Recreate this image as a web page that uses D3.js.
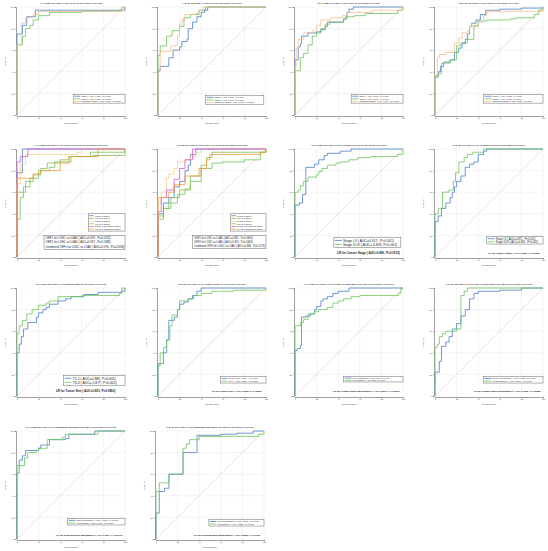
<!DOCTYPE html>
<html lang="en">
<head>
<meta charset="UTF-8">
<title>LINE-1 ROC curves</title>
<script src="https://d3js.org/d3.v7.min.js"></script>
<style>
  body { margin: 0; background: #fff; }
  svg { display: block; font-family: "Liberation Sans", Arial, sans-serif; }
</style>
</head>
<body>
<svg width="548" height="551"></svg>
<script>
// ---- data ----
var ticks = [0, 20, 40, 60, 80, 100];

var titles = [
  "A-1: FEMALE LINE-1 FOR LUAD IN TRAINING COHORT",
  "A-2: MALE LINE-1 FOR LUAD IN TRAINING COHORT",
  "B-1: FEMALE LINE-1 FOR LUSC IN TRAINING COHORT",
  "B-2: MALE LINE-1 FOR LUSC IN TRAINING COHORT",
  "C-1: FEMALE LINE-1 FOR LUSC VS LUAD IN TRAINING COHORT",
  "C-2: MALE LINE-1 FOR LUSC VS LUAD IN TRAINING COHORT",
  "D-1: FEMALE LINE-1 FOR CANCER STAGE IN TRAINING COHORT",
  "D-2: MALE LINE-1 FOR CANCER STAGE IN TRAINING COHORT",
  "E-1: FEMALE LINE-1 FOR TUMOR SIZE IN TRAINING COHORT",
  "E-2: MALE LINE-1 FOR TUMOR SIZE IN TRAINING COHORT",
  "F-1: FEMALE LINE-1 FOR LYMPH NODES METASTASES IN TRAINING COHORT",
  "F-2: MALE LINE-1 FOR LYMPH NODES METASTASES IN TRAINING COHORT",
  "G-1: FEMALE LINE-1 FOR DISSEMINATED METASTASES IN TRAINING COHORT",
  "G-2: MALE LINE-1 FOR DISSEMINATED METASTASES IN TRAINING COHORT"
];

// ROC points: [100-specificity, sensitivity]
var a1Orf1 = [[0,0],[0,75],[5,83],[9,91],[17,97],[96,97],[100,100]];
var a1Orf2 = [[0,0],[0,65],[5,73],[8,80],[12,83],[15,88],[20,92],[30,95],[60,96],[94,97],[97,100],[100,100]];
var a1Comb = [[0,0],[0,65],[4,85],[8,90],[15,93],[20,96],[97,97],[100,100]];

var a2Orf1 = [[0,0],[0,41],[2,45],[10,53],[14,60],[20,63],[22,68],[27,70],[28,80],[32,86],[36,91],[40,95],[43,97],[46,100],[100,100]];
var a2Orf2 = [[0,0],[0,55],[2,64],[8,73],[13,78],[20,82],[24,90],[30,93],[38,97],[44,100],[100,100]];
var a2Comb = [[0,0],[0,40],[2,59],[12,64],[18,73],[20,84],[22,88],[25,93],[35,94],[38,97],[42,100],[100,100]];

var b1Orf1 = [[0,0],[0,51],[3,63],[5,66],[6,73],[12,76],[20,77],[24,79],[28,82],[30,86],[45,89],[48,95],[50,98],[54,100],[100,100]];
var b1Orf2 = [[0,0],[0,41],[5,53],[8,57],[12,65],[16,73],[20,76],[24,80],[28,84],[32,86],[45,89],[47,91],[55,92],[65,94],[95,97],[100,100]];
var b1Comb = [[0,0],[0,45],[1,62],[3,70],[8,76],[16,78],[20,83],[24,88],[33,90],[44,92],[48,95],[72,97],[100,100]];

var b2Orf1 = [[0,0],[0,36],[3,40],[5,45],[8,49],[14,51],[18,58],[22,62],[25,66],[28,70],[30,75],[32,82],[34,85],[38,88],[42,93],[47,97],[60,98],[80,99],[100,100]];
var b2Orf2 = [[0,0],[0,35],[3,38],[6,48],[14,51],[20,64],[24,67],[30,70],[36,83],[40,87],[48,88],[70,89],[75,90],[92,93],[96,97],[100,100]];
var b2Comb = [[0,0],[0,37],[2,53],[4,56],[10,58],[18,66],[22,71],[25,76],[30,78],[32,82],[40,86],[45,92],[48,96],[100,100]];

var c1LuscOrf1 = [[0,0],[0,78],[5,100],[100,100]];
var c1LuadOrf1 = [[0,0],[0,35],[3,55],[6,65],[12,73],[20,80],[30,83],[35,88],[50,93],[68,97],[100,100]];
var c1LuscOrf2 = [[0,0],[0,68],[3,86],[8,95],[56,97],[60,100],[100,100]];
var c1LuadOrf2 = [[0,0],[0,60],[8,70],[15,76],[22,82],[28,87],[40,90],[48,93],[70,94],[100,100]];
var c1LuscComb = [[0,0],[0,88],[3,93],[10,100],[100,100]];
var c1LuadComb = [[0,0],[0,73],[15,77],[22,80],[40,87],[48,93],[75,100],[100,100]];

var c2LuscOrf1 = [[0,0],[0,40],[5,50],[10,55],[15,65],[20,70],[25,80],[28,85],[30,95],[35,100],[100,100]];
var c2LuadOrf1 = [[0,0],[0,35],[5,45],[10,50],[18,58],[25,63],[30,70],[40,82],[50,87],[60,88],[80,90],[95,97],[100,100]];
var c2LuscOrf2 = [[0,0],[0,50],[3,60],[8,73],[10,77],[15,82],[18,88],[25,90],[30,93],[35,97],[40,100],[100,100]];
var c2LuadOrf2 = [[0,0],[0,38],[5,45],[12,55],[20,62],[30,75],[40,85],[45,92],[50,97],[100,100]];
var c2LuscComb = [[0,0],[0,42],[3,55],[8,62],[15,72],[20,82],[25,90],[32,100],[100,100]];
var c2LuadComb = [[0,0],[0,55],[10,60],[15,67],[25,75],[38,82],[45,90],[48,95],[95,97],[100,100]];

var d1Early = [[0,0],[0,48],[4,50],[7,58],[10,83],[18,86],[22,90],[27,94],[30,96],[42,98],[52,100],[100,100]];
var d1Late = [[0,0],[0,60],[3,62],[5,66],[8,70],[12,74],[20,76],[22,79],[25,82],[30,85],[38,87],[42,88],[50,90],[58,92],[70,93],[95,95],[100,100]];
var d2Early = [[0,0],[0,33],[3,38],[6,45],[10,50],[14,55],[16,60],[18,65],[20,70],[24,75],[28,83],[32,86],[36,88],[40,95],[45,98],[48,100],[100,100]];
var d2Late = [[0,0],[0,40],[3,45],[7,60],[13,62],[17,70],[19,78],[22,88],[27,92],[30,95],[35,97],[45,100],[100,100]];

var e1Small = [[0,0],[0,40],[2,48],[4,55],[6,62],[10,68],[18,73],[20,77],[24,80],[27,82],[30,85],[38,88],[45,90],[50,92],[62,94],[75,96],[97,97],[100,100]];
var e1Large = [[0,0],[0,58],[2,65],[5,70],[9,76],[14,80],[20,84],[27,86],[30,88],[38,92],[60,93],[95,95],[97,100],[100,100]];
var e2Small = [[0,0],[0,30],[5,40],[8,52],[10,70],[15,73],[18,80],[20,85],[24,87],[28,90],[32,93],[36,97],[40,100],[100,100]];
var e2Large = [[0,0],[0,28],[2,40],[5,45],[8,52],[11,65],[13,75],[18,80],[20,88],[28,90],[33,93],[40,95],[50,97],[70,98],[100,100]];

var f1Non = [[0,0],[0,42],[2,44],[5,47],[6,73],[10,74],[14,76],[18,80],[20,83],[24,88],[26,90],[30,92],[35,95],[40,97],[50,100],[100,100]];
var f1Met = [[0,0],[0,65],[5,68],[8,71],[12,76],[18,78],[22,80],[30,82],[35,86],[40,88],[45,90],[52,92],[60,93],[96,95],[98,100],[100,100]];
var f2Non = [[0,0],[0,22],[4,32],[6,46],[10,50],[13,55],[16,62],[20,67],[24,74],[28,80],[32,90],[36,95],[40,97],[60,98],[80,100],[100,100]];
var f2Met = [[0,0],[0,45],[2,48],[4,55],[7,58],[10,60],[20,62],[24,93],[27,97],[30,100],[100,100]];

var g1Non = [[0,0],[0,61],[2,73],[5,77],[8,82],[20,84],[22,87],[30,92],[45,93],[48,97],[70,97],[72,100],[100,100]];
var g1Met = [[0,0],[0,68],[7,75],[10,80],[18,82],[20,84],[28,92],[42,94],[45,97],[75,100],[100,100]];
var g2Non = [[0,0],[0,24],[3,44],[8,47],[12,60],[25,80],[38,96],[60,97],[75,98],[90,100],[100,100]];
var g2Met = [[0,0],[0,44],[3,52],[8,52],[12,60],[25,84],[28,88],[31,92],[40,95],[95,97],[100,100]];

// legend texts
var a1Labels = ["ORF1 ( AUC=0.962 , P<0.001)", "ORF2 ( AUC=0.921 , P<0.001)", "Combined ORFs ( AUC=0.958 , P<0.001)"];
var a2Labels = ["ORF1 ( AUC=0.872 , P<0.001)", "ORF2 ( AUC=0.907 , P<0.001)", "Combined ORFs ( AUC=0.893 , P<0.001)"];
var b1Labels = ["ORF1 ( AUC=0.868 , P<0.001)", "ORF2 ( AUC=0.834 , P<0.001)", "Combined ORFs ( AUC=0.869 , P<0.001)"];
var b2Labels = ["ORF1 ( AUC=0.815 , P<0.001)", "ORF2 ( AUC=0.786 , P<0.001)", "Combined ORFs ( AUC=0.827 , P<0.001)"];
var cLabels = ["LUSC-1 ORF1", "LUAD-1 ORF1", "LUSC-1 ORF2", "LUAD-1 ORF2", "LUSC-1 Combined ORFs", "LUAD-1 Combined ORFs"];
var c1Stats = ["ORF1 for LUSC vs LUAD ( AUC=0.978 , P=0.1132)", "ORF2 for LUSC vs LUAD ( AUC=0.937 , P=0.1988)", "Combined ORFs for LUSC vs LUAD ( AUC=0.976 , P=0.2094)"];
var c2Stats = ["ORF1 for LUSC vs LUAD ( AUC=0.862 , P=0.0643)", "ORF2 for LUSC vs LUAD ( AUC=0.902 , P=0.0463)", "Combined ORFs for LUSC vs LUAD ( AUC=0.884 , P=0.1176)"];
var d1Labels = ["Stage I-II ( AUC=0.912 , P<0.001)", "Stage III-IV ( AUC= 0.863, P<0.001)"];
var d2Labels = ["Stage I-II ( AUC=0.871 , P<0.001)", "Stage III-IV ( AUC=0.894 , P<0.001)"];
var e1Labels = ["T1-2 ( AUC=0.886, P<0.001)", "T3-4 ( AUC= 0.877, P<0.001)"];
var e2Labels = ["T1-2 ( AUC=0.884 , P<0.001)", "T3-4 ( AUC=0.890 , P<0.001)"];
var f1Labels = ["N-non Metastases ( AUC=0.890 , P<0.001)", "N-Metastases ( AUC=0.877 , P<0.001)"];
var f2Labels = ["N-non Metastases ( AUC=0.862 , P<0.001)", "N-Metastases ( AUC=0.893 , P<0.001)"];
var g1Labels = ["Non-Metastases ( AUC=0.896 , P<0.001)", "Metastases ( AUC=0.900 , P<0.001)"];
var g2Labels = ["Non-Metastases ( AUC=0.871 , P<0.001)", "Metastases ( AUC=0.880 , P<0.001)"];
var lrLabels = [
  "LR for Cancer Stage ( AUC=0.890, P=0.0152)",
  "LR for Cancer Stage ( AUC=0.887, P=0.6672)",
  "LR for Tumor Size ( AUC=0.851, P=0.0853)",
  "LR for Tumor Size ( AUC=0.836, P=0.9208)",
  "LR for Lymph Nodes Metastases ( AUC=0.876, P=0.0002)",
  "LR for Lymph Nodes Metastases ( AUC=0.935, P=0.2083)",
  "LR for Disseminated Metastases ( AUC=0.879, P=0.8770)",
  "LR for Disseminated Metastases ( AUC=0.865, P=0.6461)"
];

// ---- styles / layout ----
var blue = "#4a7fc6", green = "#6cc65a", peach = "#f8be90";
var cColors = ["#4a7fc6", "#6cc65a", "#f5cf8a", "#8fb84e", "#d659d9", "#f29a3a"];
var twoColors = [blue, green];
var threeColors = [blue, green, peach];

var colX = [17, 158, 295, 435];
var rowY = [7, 149, 288, 431];
var plotW = 108, plotH = 108;

// legend boxes in data units [x0, x1, y0, y1]; big = larger legend type
var panels = [
  {curves: [a1Orf1, a1Orf2, a1Comb], colors: threeColors, labels: a1Labels, box: [52, 100, 11, 19]},
  {curves: [a2Orf1, a2Orf2, a2Comb], colors: threeColors, labels: a2Labels, box: [44, 98, 10, 18]},
  {curves: [b1Orf1, b1Orf2, b1Comb], colors: threeColors, labels: b1Labels, box: [52, 100, 11, 19]},
  {curves: [b2Orf1, b2Orf2, b2Comb], colors: threeColors, labels: b2Labels, box: [45, 100, 11, 19]},
  {curves: [c1LuscOrf1, c1LuadOrf1, c1LuscOrf2, c1LuadOrf2, c1LuscComb, c1LuadComb], colors: cColors, labels: cLabels, box: [66, 100, 24, 40], stats: c1Stats, statBox: [25, 100, 7, 20]},
  {curves: [c2LuscOrf1, c2LuadOrf1, c2LuscOrf2, c2LuadOrf2, c2LuscComb, c2LuadComb], colors: cColors, labels: cLabels, box: [67, 100, 24, 40], stats: c2Stats, statBox: [32, 100, 8, 20]},
  {curves: [d1Early, d1Late], colors: twoColors, labels: d1Labels, box: [36, 98, 9, 18], lr: lrLabels[0], lrPos: [39, 3], big: true},
  {curves: [d2Early, d2Late], colors: twoColors, labels: d2Labels, box: [48, 100, 12, 19], lr: lrLabels[1], lrPos: [49, 3]},
  {curves: [e1Small, e1Large], colors: twoColors, labels: e1Labels, box: [43, 100, 10, 19], lr: lrLabels[2], lrPos: [36, 3.5], big: true},
  {curves: [e2Small, e2Large], colors: twoColors, labels: e2Labels, box: [58, 100, 12, 18], lr: lrLabels[3], lrPos: [50, 4]},
  {curves: [f1Non, f1Met], colors: twoColors, labels: f1Labels, box: [45, 100, 13, 18], lr: lrLabels[4], lrPos: [35, 4]},
  {curves: [f2Non, f2Met], colors: twoColors, labels: f2Labels, box: [45, 100, 12, 18], lr: lrLabels[5], lrPos: [36, 4]},
  {curves: [g1Non, g1Met], colors: twoColors, labels: g1Labels, box: [47, 100, 13, 19], lr: lrLabels[6], lrPos: [36, 3]},
  {curves: [g2Non, g2Met], colors: twoColors, labels: g2Labels, box: [49, 100, 12, 18], lr: lrLabels[7], lrPos: [35, 3]}
];

var svg = d3.select('svg');

panels.forEach(function (p, i) {
  var col = i % 4, row = Math.floor(i / 4);
  var ox = colX[col], oy = rowY[row];
  if (row === 3 && col === 1) ox = 156;

  var x = d3.scaleLinear().domain([0, 100]).range([0, plotW]);
  var y = d3.scaleLinear().domain([0, 100]).range([plotH, 0]);
  var g = svg.append('g').attr('transform', 'translate(' + ox + ',' + oy + ')');

  // grid
  g.selectAll('.vg').data(ticks.slice(1)).enter().append('line')
    .attr('x1', function (d) { return x(d); }).attr('x2', function (d) { return x(d); })
    .attr('y1', 0).attr('y2', plotH)
    .attr('stroke', '#e3e3e3').attr('stroke-width', 0.4);
  g.selectAll('.hg').data(ticks.slice(1)).enter().append('line')
    .attr('y1', function (d) { return y(d); }).attr('y2', function (d) { return y(d); })
    .attr('x1', 0).attr('x2', plotW)
    .attr('stroke', '#e3e3e3').attr('stroke-width', 0.4);

  // chance line
  g.append('line')
    .attr('x1', x(0)).attr('y1', y(0)).attr('x2', x(100)).attr('y2', y(100))
    .attr('stroke', '#f3c8ba').attr('stroke-width', 0.6);

  // axes
  var xa = g.append('g').attr('transform', 'translate(0,' + (plotH + 1) + ')')
    .call(d3.axisBottom(x).tickValues(ticks).tickSize(1.2).tickPadding(0.8));
  var ya = g.append('g').attr('transform', 'translate(-1,0)')
    .call(d3.axisLeft(y).tickValues(ticks).tickSize(1.2).tickPadding(0.8));
  [xa, ya].forEach(function (a) {
    a.selectAll('text').attr('font-size', 2.1).attr('fill', '#333');
    a.selectAll('line').attr('stroke', '#444').attr('stroke-width', 0.4);
    a.select('.domain').attr('stroke', '#444').attr('stroke-width', 0.5);
    a.attr('font-size', null).attr('font-family', null);
  });

  g.append('text').attr('x', plotW / 2).attr('y', plotH + 9)
    .attr('text-anchor', 'middle').attr('font-size', 2.2).attr('fill', '#333')
    .text('100-Specificity');
  g.append('text')
    .attr('transform', 'translate(-11,' + plotH / 2 + ') rotate(-90)')
    .attr('text-anchor', 'middle').attr('font-size', 2.2).attr('fill', '#333')
    .text('Sensitivity');

  // title
  g.append('text').attr('x', plotW / 2).attr('y', -3)
    .attr('text-anchor', 'middle').attr('font-size', 2.4).attr('font-weight', 'bold')
    .attr('fill', '#333').text(titles[i]);

  // curves
  var line = d3.line()
    .x(function (d) { return x(d[0]); })
    .y(function (d) { return y(d[1]); })
    .curve(d3.curveStepAfter);
  g.selectAll('.roc').data(p.curves).enter().append('path')
    .attr('d', line)
    .attr('fill', 'none')
    .attr('stroke', function (d, k) { return p.colors[k]; })
    .attr('stroke-width', 0.8);

  // legend boxes
  drawBox(g, x, y, p.box, p.labels, p.colors);
  if (p.stats) drawBox(g, x, y, p.statBox, p.stats, null);
  if (p.lr) {
    var lt = g.append('text').attr('x', x(p.lrPos[0])).attr('y', y(p.lrPos[1]))
      .attr('font-size', p.big ? 3 : 2.5).attr('font-weight', 'bold')
      .attr('fill', '#222').text(p.lr);
    var maxW = x(100) - x(p.lrPos[0]);
    var w = lt.node().getComputedTextLength();
    if (w > maxW) lt.attr('textLength', maxW).attr('lengthAdjust', 'spacingAndGlyphs');
  }
});

function drawBox(g, x, y, b, labels, colors) {
  var bx = x(b[0]), bw = x(b[1]) - x(b[0]);
  var by = y(b[3]), bh = y(b[2]) - y(b[3]);
  g.append('rect').attr('x', bx).attr('y', by).attr('width', bw).attr('height', bh)
    .attr('fill', '#fff').attr('stroke', '#555').attr('stroke-width', 0.45);
  var n = labels.length;
  var step = bh / (n + 0.4);
  var fs = Math.min(step * 0.85, 3.4);
  var sample = colors ? Math.min(7, bw * 0.12) : 0;
  var tx = bx + 1 + (colors ? sample + 1.2 : 0.5);
  var room = bx + bw - tx - 0.8;
  var items = g.selectAll(null).data(labels).enter().append('g')
    .attr('transform', function (d, k) { return 'translate(0,' + (by + step * (k + 0.7)) + ')'; });
  if (colors) {
    items.append('line').attr('x1', bx + 1).attr('x2', bx + 1 + sample)
      .attr('y1', 0).attr('y2', 0)
      .attr('stroke', function (d, k) { return colors[k]; }).attr('stroke-width', 0.8);
  }
  var texts = items.append('text').attr('x', tx).attr('y', fs * 0.35)
    .attr('font-size', fs).attr('fill', '#222').text(function (d) { return d; });
  var widest = d3.max(texts.nodes(), function (n) { return n.getComputedTextLength(); });
  if (widest > room) texts.attr('font-size', fs * room / widest).attr('y', fs * room / widest * 0.35);
}
</script>
</body>
</html>
